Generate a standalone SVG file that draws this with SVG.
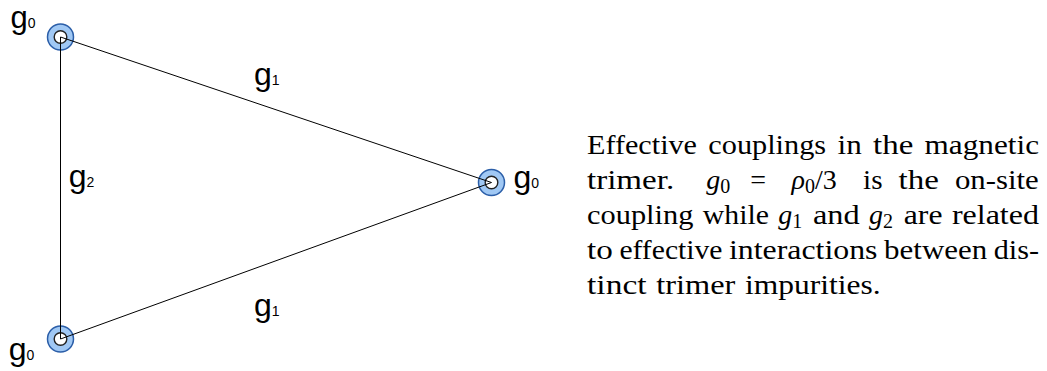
<svg xmlns="http://www.w3.org/2000/svg" width="1047" height="371" viewBox="0 0 1047 371">
<style>
.ring{fill:#a0c8f4;stroke:#2b5ea8;stroke-width:1.5}
.core{fill:#ffffff;stroke:#222222;stroke-width:1.4}
.edge{stroke:#000000;stroke-width:1;fill:none}
.lbl{font-family:"Liberation Sans",Arial,sans-serif;font-size:32px;fill:#000}
.ls{font-size:14px}
.cap{font-family:"Liberation Serif","Times New Roman",serif;font-size:28px;fill:#000}
.it{font-style:italic}
.sub{font-size:20px;font-style:normal}
</style>
<rect width="1047" height="371" fill="#ffffff"/>
<g id="node-top">
  <circle class="ring" cx="60.5" cy="37" r="13"/>
  <circle class="core" cx="60.5" cy="37" r="6.3"/>
  <text class="lbl" x="10.5" y="28" style="font-size:31px">g<tspan class="ls">0</tspan></text>
</g>
<g id="node-right">
  <circle class="ring" cx="491.5" cy="182.5" r="13"/>
  <circle class="core" cx="491.5" cy="182.5" r="6.3"/>
  <text class="lbl" x="513.5" y="188">g<tspan class="ls">0</tspan></text>
</g>
<g id="node-bottom">
  <circle class="ring" cx="60.5" cy="339" r="13"/>
  <circle class="core" cx="60.5" cy="339" r="6.3"/>
  <text class="lbl" x="8.7" y="360">g<tspan class="ls">0</tspan></text>
</g>
<g id="connectors">
  <line class="edge" x1="60.5" y1="37" x2="491.5" y2="182.5"/>
  <line class="edge" x1="60.5" y1="339" x2="491.5" y2="182.5"/>
  <line class="edge" x1="60.5" y1="37" x2="60.5" y2="339"/>
  <text class="lbl" x="254" y="85">g<tspan class="ls">1</tspan></text>
  <text class="lbl" x="254" y="316">g<tspan class="ls">1</tspan></text>
  <text class="lbl" x="68.7" y="186.5">g<tspan class="ls">2</tspan></text>
</g>
<g id="caption" class="cap" font-family="Liberation Serif, Times New Roman, serif" font-size="28">
  <text x="587" y="153.5" textLength="110" lengthAdjust="spacingAndGlyphs">Effective</text>
  <text x="708.3" y="153.5" textLength="117.8" lengthAdjust="spacingAndGlyphs">couplings</text>
  <text x="837.5" y="153.5" textLength="24.2" lengthAdjust="spacingAndGlyphs">in</text>
  <text x="873" y="153.5" textLength="40.3" lengthAdjust="spacingAndGlyphs">the</text>
  <text x="924.6" y="153.5" textLength="114.4" lengthAdjust="spacingAndGlyphs">magnetic</text>

  <text x="587" y="188.5" textLength="87.2" lengthAdjust="spacingAndGlyphs">trimer.</text>
  <text x="706.2" y="188.5"><tspan class="it">g</tspan><tspan class="sub" dy="4">0</tspan></text>
  <text x="750.3" y="188.5">=</text>
  <text x="791.6" y="188.5"><tspan class="it">ρ</tspan><tspan class="sub" dy="4">0</tspan><tspan dy="-4">/3</tspan></text>
  <text x="863.1" y="188.5" textLength="19.5" lengthAdjust="spacingAndGlyphs">is</text>
  <text x="898.6" y="188.5" textLength="40.3" lengthAdjust="spacingAndGlyphs">the</text>
  <text x="954.9" y="188.5" textLength="83.9" lengthAdjust="spacingAndGlyphs">on-site</text>

  <text x="587" y="223.5" textLength="106.4" lengthAdjust="spacingAndGlyphs">coupling</text>
  <text x="702.8" y="223.5" textLength="66.1" lengthAdjust="spacingAndGlyphs">while</text>
  <text x="778.2" y="223.5"><tspan class="it">g</tspan><tspan class="sub" dy="4">1</tspan></text>
  <text x="813" y="223.5" textLength="46.7" lengthAdjust="spacingAndGlyphs">and</text>
  <text x="869.1" y="223.5"><tspan class="it">g</tspan><tspan class="sub" dy="4">2</tspan></text>
  <text x="903.8" y="223.5" textLength="38.7" lengthAdjust="spacingAndGlyphs">are</text>
  <text x="951.9" y="223.5" textLength="87.1" lengthAdjust="spacingAndGlyphs">related</text>

  <text x="587" y="258.5" textLength="25.8" lengthAdjust="spacingAndGlyphs">to</text>
  <text x="619.4" y="258.5" textLength="103.1" lengthAdjust="spacingAndGlyphs">effective</text>
  <text x="729" y="258.5" textLength="148.5" lengthAdjust="spacingAndGlyphs">interactions</text>
  <text x="884.1" y="258.5" textLength="103.1" lengthAdjust="spacingAndGlyphs">between</text>
  <text x="993.7" y="258.5" textLength="45.3" lengthAdjust="spacingAndGlyphs">dis-</text>

  <text x="587" y="293.5" textLength="59.6" lengthAdjust="spacingAndGlyphs">tinct</text>
  <text x="656.3" y="293.5" textLength="79.1" lengthAdjust="spacingAndGlyphs">trimer</text>
  <text x="745.1" y="293.5" textLength="135.6" lengthAdjust="spacingAndGlyphs">impurities.</text>
</g>
</svg>
